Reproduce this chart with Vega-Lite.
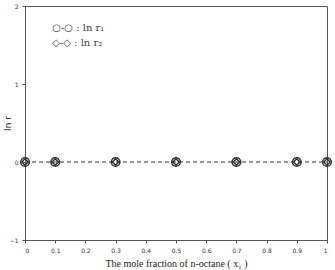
{
  "$schema": "https://vega.github.io/schema/vega-lite/v6.json",
  "width": 302,
  "height": 234,
  "autosize": {"type": "none"},
  "padding": {"left": 25, "top": 6, "right": 8, "bottom": 30},
  "background": "white",
  "config": {
    "view": {"stroke": "#555", "strokeWidth": 1},
    "axis": {"grid": false, "domainColor": "#555", "tickColor": "#555", "labelColor": "#333", "labelFontSize": 6, "labelFont": "DejaVu Sans", "tickSize": 3, "labelOverlap": false, "labelPadding": 4}
  },
  "datasets": {
    "pts": [
      {"x": 0, "series": "ln r1", "lnr": 0},
      {"x": 0.1, "series": "ln r1", "lnr": 0},
      {"x": 0.3, "series": "ln r1", "lnr": 0},
      {"x": 0.5, "series": "ln r1", "lnr": 0},
      {"x": 0.7, "series": "ln r1", "lnr": 0},
      {"x": 0.9, "series": "ln r1", "lnr": 0},
      {"x": 1, "series": "ln r1", "lnr": 0},
      {"x": 0, "series": "ln r2", "lnr": 0},
      {"x": 0.1, "series": "ln r2", "lnr": 0},
      {"x": 0.3, "series": "ln r2", "lnr": 0},
      {"x": 0.5, "series": "ln r2", "lnr": 0},
      {"x": 0.7, "series": "ln r2", "lnr": 0},
      {"x": 0.9, "series": "ln r2", "lnr": 0},
      {"x": 1, "series": "ln r2", "lnr": 0}
    ],
    "leg": [
      {"x": 0.09, "lnr": 1.72, "label": "○-○ : ln  r₁"},
      {"x": 0.09, "lnr": 1.53, "label": "◇-◇ : ln  r₂"}
    ]
  },
  "encoding": {
    "x": {"field": "x", "type": "quantitative", "scale": {"domain": [0, 1], "nice": false},
      "axis": {"values": [0, 0.1, 0.2, 0.3, 0.4, 0.5, 0.6, 0.7, 0.8, 0.9, 1], "labelOverlap": false, "format": "~g", "title": "The mole fraction of n-octane ( x₁ )", "titleFont": "Liberation Serif", "titleFontSize": 10, "titleFontWeight": "normal", "titleColor": "#222", "titlePadding": 5}},
    "y": {"field": "lnr", "type": "quantitative", "scale": {"domain": [-1, 2], "nice": false},
      "axis": {"values": [-1, 0, 1, 2], "format": "~g", "title": "ln r", "titleFont": "DejaVu Sans", "titleFontSize": 9, "titleFontWeight": "normal", "titleColor": "#222", "titleX": -22, "titleBaseline": "top"}}
  },
  "layer": [
    {
      "data": {"name": "pts"},
      "mark": {"type": "line", "strokeDash": [4, 3], "color": "#777", "strokeWidth": 1},
      "encoding": {
        "detail": {"field": "series"}
      }
    },
    {
      "data": {"name": "pts"},
      "mark": {"type": "point", "filled": false, "color": "#333", "strokeWidth": 1.5, "opacity": 1},
      "encoding": {
        "shape": {"field": "series", "type": "nominal", "scale": {"domain": ["ln r1", "ln r2"], "range": ["circle", "diamond"]}, "legend": null},
        "size": {"field": "series", "type": "nominal", "scale": {"domain": ["ln r1", "ln r2"], "range": [75, 40]}, "legend": null}
      }
    },
    {
      "data": {"name": "leg"},
      "mark": {"type": "text", "align": "left", "baseline": "middle", "font": "DejaVu Serif", "fontSize": 10, "color": "#444"},
      "encoding": {
        "text": {"field": "label"}
      }
    }
  ]
}
